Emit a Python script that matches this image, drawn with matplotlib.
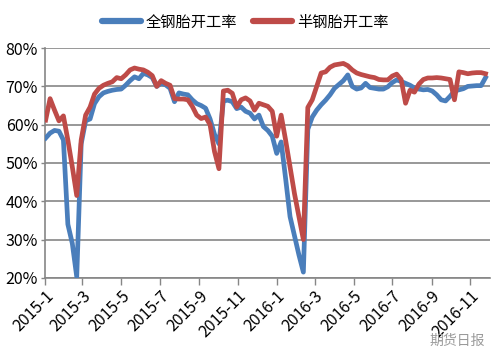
import numpy as np
import pandas as pd
import matplotlib
matplotlib.use('Agg')
import matplotlib.pyplot as plt
import matplotlib.dates as mdates
from matplotlib.ticker import FuncFormatter

plt.rcParams['font.family'] = ['Liberation Sans Narrow', 'Noto Sans CJK SC', 'DejaVu Sans']

# weekly data, 2015-01-02 .. 2016-11-25
weeks = pd.date_range('2015-01-02', periods=100, freq='7D')

# 全钢胎开工率 (%)
quan_gang = [
    56.5, 57.8, 58.5, 58.3, 56.0, 34.0, 29.0, 20.3, 55.0, 61.0,
    61.5, 65.5, 67.3, 68.3, 68.7, 69.0, 69.2, 69.3, 70.3, 71.5,
    72.5, 72.0, 73.4, 73.0, 72.3, 70.0, 70.8, 70.4, 69.5, 66.0,
    68.3, 68.0, 67.8, 66.5, 65.5, 65.0, 64.3, 61.5, 57.5, 55.0,
    66.2, 66.4, 66.0, 64.2, 64.6, 63.5, 63.0, 61.5, 62.5, 59.5,
    58.5, 57.0, 52.5, 55.5, 46.0, 36.0, 31.0, 26.0, 21.5, 58.8,
    62.0, 63.8, 65.2, 66.4, 67.8, 69.5, 70.5, 71.5, 73.0, 70.0,
    69.3, 69.6, 70.8, 69.7, 69.5, 69.3, 69.3, 69.9, 71.0, 71.7,
    71.3, 70.8, 70.3, 69.6, 69.3, 69.1, 69.2, 68.8, 67.8, 66.5,
    66.2, 67.4, 68.8, 69.1, 69.4, 70.0, 70.1, 70.2, 70.2, 72.3,
]

# 半钢胎开工率 (%)
ban_gang = [
    61.2, 66.8, 63.8, 61.0, 62.3, 56.0, 49.0, 41.5, 56.0, 62.5,
    64.6, 68.0, 69.5, 70.3, 70.8, 71.2, 72.3, 72.0, 73.0, 74.3,
    74.8, 74.5, 74.3, 73.7, 72.8, 70.0, 71.5, 70.8, 70.3, 66.8,
    66.7, 66.7, 66.5, 64.8, 62.5, 61.6, 62.0, 60.0, 53.0, 48.5,
    68.8, 69.0, 68.2, 64.6, 66.5, 67.0, 66.2, 63.8, 65.6, 65.2,
    64.8, 63.5, 57.0, 62.5, 56.0, 49.0, 42.0, 36.0, 30.0, 64.5,
    66.5, 70.0, 73.5, 73.8, 75.0, 75.6, 75.8, 76.0, 75.4, 74.3,
    73.5, 73.1, 72.8, 72.5, 72.3, 71.8, 71.7, 71.7, 72.7, 73.2,
    71.8, 65.6, 69.0, 68.5, 70.6, 71.8, 72.2, 72.2, 72.3, 72.2,
    72.0, 71.8, 66.5, 73.8, 73.6, 73.3, 73.5, 73.6, 73.6, 73.3,
]

fig = plt.figure(figsize=(5.0, 3.59), dpi=100)
ax = fig.add_axes([0.09, 0.226, 0.89, 0.64])

ax.plot(weeks, quan_gang, color='#4a7ebb', lw=3.4, solid_joinstyle='round', label='全钢胎开工率', zorder=3)
ax.plot(weeks, ban_gang, color='#be4b48', lw=3.4, solid_joinstyle='round', label='半钢胎开工率', zorder=3)

ax.set_ylim(20, 80)
ax.set_yticks(np.arange(20, 81, 10))
ax.yaxis.set_major_formatter(FuncFormatter(lambda v, p: '%d%%' % v))
ax.grid(axis='y', color='#868686', lw=1.2)
ax.set_axisbelow(True)

ax.set_xlim(pd.Timestamp('2015-01-01'), pd.Timestamp('2016-12-02'))
ax.xaxis.set_major_locator(mdates.MonthLocator(bymonth=[1, 3, 5, 7, 9, 11]))
ax.xaxis.set_major_formatter(FuncFormatter(lambda v, p: '%d-%d' % (mdates.num2date(v).year, mdates.num2date(v).month)))

for s in ['top', 'right']:
    ax.spines[s].set_visible(False)
for s in ['left', 'bottom']:
    ax.spines[s].set_color('#868686')
    ax.spines[s].set_linewidth(1.2)

ax.tick_params(axis='x', colors='#868686', length=5, width=1, labelcolor='black', labelsize=11.5, pad=2)
ax.tick_params(axis='y', colors='#868686', length=3, width=1, labelcolor='black', labelsize=11.5, pad=2)
for lbl in ax.get_xticklabels():
    lbl.set_rotation(45)
    lbl.set_ha('right')
    lbl.set_rotation_mode('anchor')

leg = fig.legend(loc='upper center', bbox_to_anchor=(0.49, 1.0), ncol=2, frameon=False,
                 prop={'family': ['Noto Sans CJK SC'], 'size': 11}, handlelength=2.6,
                 columnspacing=1.0, handletextpad=0.3)
for line in leg.get_lines():
    line.set_linewidth(4.5)
    line.set_solid_capstyle('round')

fig.text(0.97, 0.05, '期货日报', ha='right', va='center', fontsize=10, color='#9a9a9a',
         family=['Noto Sans CJK SC'])

fig.savefig('out.png', dpi=100)
